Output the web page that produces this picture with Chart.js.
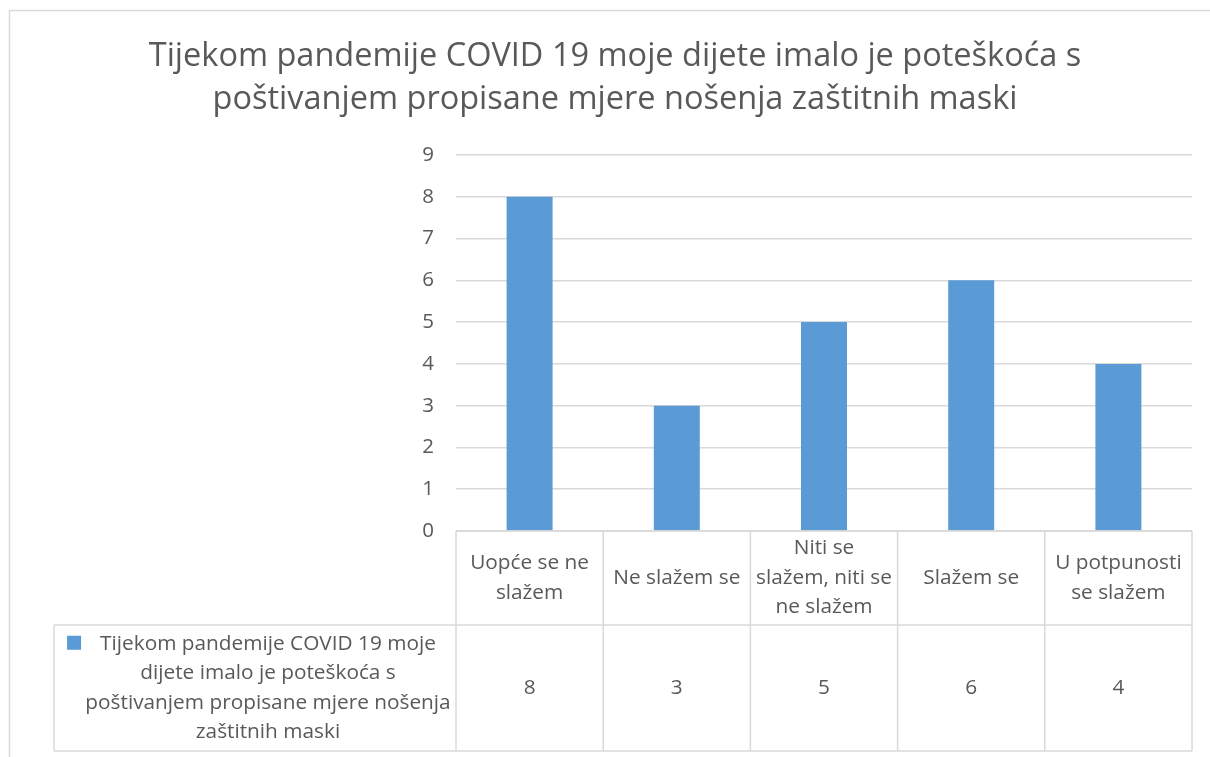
<!DOCTYPE html>
<html>
<head>
<meta charset="utf-8">
<script src="https://cdn.jsdelivr.net/npm/chart.js@4"></script>
<style>
  html, body { margin: 0; padding: 0; background: #fff; }
  #wrap { width: 1210px; height: 757px; }
</style>
</head>
<body>
<div id="wrap"><canvas id="chart"></canvas></div>
<script>
// Chart data
const titleLines = [
    'Tijekom pandemije COVID 19 moje dijete imalo je poteškoća s',
    'poštivanjem propisane mjere nošenja zaštitnih maski'
];
const categories = [
    ['Uopće se ne', 'slažem'],
    ['Ne slažem se'],
    ['Niti se', 'slažem, niti se', 'ne slažem'],
    ['Slažem se'],
    ['U potpunosti', 'se slažem']
];
const values = [8, 3, 5, 6, 4];
const seriesLabel = [
    'Tijekom pandemije COVID 19 moje',
    'dijete imalo je poteškoća s',
    'poštivanjem propisane mjere nošenja',
    'zaštitnih maski'
];
const yTicks = [0, 1, 2, 3, 4, 5, 6, 7, 8, 9];

const textColor = '#595959';
const lineColor = '#d9d9d9';
const barColor = '#5B9BD5';
const fontFamily = '"Open Sans", "Noto Sans", sans-serif';

// Draws frame, title and the data table under the plot
const tablePlugin = {
    id: 'excelTable',
    afterDraw(chart) {
        const ctx = chart.ctx;
        const area = chart.chartArea;
        const x = chart.scales.x;
        const step = x.getPixelForValue(1) - x.getPixelForValue(0);
        const left = area.left;
        const right = area.right;
        const top = area.bottom;
        const rowSplit = top + 94;
        const bottom = top + 220;
        const legendLeft = 54;

        ctx.save();

        // outer frame
        ctx.strokeStyle = lineColor;
        ctx.lineWidth = 1.5;
        ctx.beginPath();
        ctx.moveTo(9.5, chart.height);
        ctx.lineTo(9.5, 10.5);
        ctx.lineTo(chart.width, 10.5);
        ctx.stroke();

        // title
        ctx.fillStyle = textColor;
        ctx.textAlign = 'center';
        ctx.textBaseline = 'middle';
        ctx.font = '32.5px ' + fontFamily;
        titleLines.forEach((line, i) => {
            ctx.fillText(line, 615, 57 + i * 43);
        });

        // table grid
        ctx.strokeStyle = lineColor;
        ctx.lineWidth = 1.5;
        ctx.beginPath();
        ctx.moveTo(left, top);
        ctx.lineTo(right, top);
        ctx.moveTo(legendLeft, rowSplit);
        ctx.lineTo(right, rowSplit);
        ctx.moveTo(legendLeft, bottom);
        ctx.lineTo(right, bottom);
        ctx.moveTo(legendLeft, rowSplit);
        ctx.lineTo(legendLeft, bottom);
        for (let i = 0; i <= categories.length; i++) {
            const px = left + i * step;
            ctx.moveTo(px, top);
            ctx.lineTo(px, bottom);
        }
        ctx.stroke();

        // category labels
        ctx.font = '20.8px ' + fontFamily;
        ctx.fillStyle = textColor;
        const lh = 29.5;
        const midCat = (top + rowSplit) / 2;
        categories.forEach((lines, i) => {
            const cx = x.getPixelForValue(i);
            const start = midCat - (lines.length - 1) * lh / 2;
            lines.forEach((line, j) => ctx.fillText(line, cx, start + j * lh));
        });

        // values row
        const midVal = (rowSplit + bottom) / 2;
        values.forEach((v, i) => {
            ctx.fillText(String(v), x.getPixelForValue(i), midVal);
        });

        // legend cell
        const legCx = 268;
        const legStart = midVal - (seriesLabel.length - 1) * lh / 2;
        seriesLabel.forEach((line, j) => ctx.fillText(line, legCx, legStart + j * lh));
        const w0 = ctx.measureText(seriesLabel[0]).width;
        ctx.fillStyle = barColor;
        ctx.fillRect(legCx - w0 / 2 - 33, legStart - 8, 14, 14);

        ctx.restore();
    }
};

const ctx = document.getElementById('chart').getContext('2d');
new Chart(ctx, {
    type: 'bar',
    data: {
        labels: categories.map(c => c.join(' ')),
        datasets: [{
            label: seriesLabel.join(' '),
            data: values,
            backgroundColor: barColor,
            barPercentage: 0.3125,
            categoryPercentage: 1
        }]
    },
    options: {
        responsive: true,
        maintainAspectRatio: false,
        animation: false,
        layout: {
            padding: { left: 396, right: 18, top: 155, bottom: 226 }
        },
        plugins: {
            legend: { display: false },
            title: { display: false },
            tooltip: { enabled: false }
        },
        scales: {
            x: {
                display: false
            },
            y: {
                min: yTicks[0],
                max: yTicks[yTicks.length - 1],
                afterFit(scale) { scale.width = 60; },
                afterBuildTicks(scale) { scale.ticks = yTicks.map(v => ({ value: v })); },
                border: { display: false },
                grid: { color: lineColor, lineWidth: 1.5, drawTicks: false },
                ticks: {
                    padding: 22,
                    color: textColor,
                    font: { family: fontFamily, size: 20.5 }
                }
            }
        }
    },
    plugins: [tablePlugin]
});
</script>
</body>
</html>
